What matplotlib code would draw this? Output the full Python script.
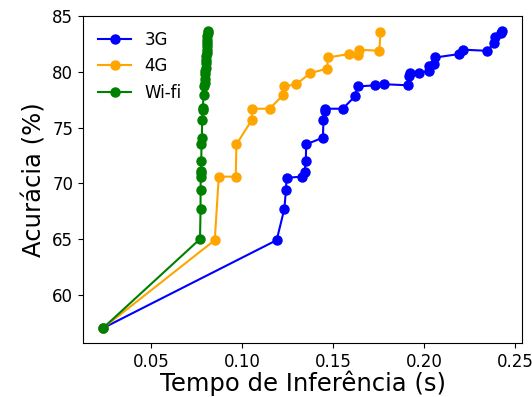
import matplotlib
matplotlib.use("Agg")
import matplotlib.pyplot as plt

# inference time (s) vs accuracy (%) per network type
t_3g = [0.0237, 0.1191, 0.1233, 0.1242, 0.1245, 0.1330, 0.1344, 0.1351, 0.1353,
        0.1445, 0.1448, 0.1459, 0.1459, 0.1554, 0.1620, 0.1637, 0.1730, 0.1781,
        0.1914, 0.1919, 0.1925, 0.1971, 0.2026, 0.2029, 0.2057, 0.2062, 0.2190,
        0.2216, 0.2346, 0.2386, 0.2391, 0.2422, 0.2431]
acc_3g = [57.0, 64.9, 67.7, 69.4, 70.5, 70.6, 71.0, 72.0, 73.5,
          74.1, 75.7, 76.5, 76.7, 76.7, 77.8, 78.7, 78.8, 78.9,
          78.8, 79.6, 79.9, 79.9, 80.1, 80.5, 80.7, 81.3, 81.6,
          82.0, 81.9, 82.6, 83.1, 83.5, 83.7]

t_4g = [0.0237, 0.0851, 0.0873, 0.0966, 0.0970, 0.1055, 0.1055, 0.1152, 0.1225,
        0.1231, 0.1299, 0.1376, 0.1469, 0.1472, 0.1586, 0.1637, 0.1642, 0.1755,
        0.1761]
acc_4g = [57.0, 64.9, 70.6, 70.6, 73.5, 75.7, 76.7, 76.7, 77.9,
          78.7, 78.9, 79.9, 80.3, 81.3, 81.6, 81.5, 82.0, 81.9,
          83.6]

t_wifi = [0.0237, 0.0770, 0.0773, 0.0773, 0.0774, 0.0776, 0.0776, 0.0777, 0.0778,
          0.0780, 0.0782, 0.0785, 0.0785, 0.0790, 0.0792, 0.0795, 0.0797, 0.0798,
          0.0800, 0.0801, 0.0802, 0.0804, 0.0805, 0.0806, 0.0807, 0.0808, 0.0809,
          0.0810, 0.0811, 0.0812, 0.0813]
acc_wifi = [57.0, 65.0, 67.7, 69.4, 70.6, 70.9, 71.1, 72.0, 73.5,
            74.1, 75.7, 76.6, 76.8, 77.9, 78.7, 79.0, 79.4, 79.8,
            80.1, 80.4, 80.8, 81.1, 81.4, 81.7, 82.0, 82.3, 82.6,
            82.9, 83.2, 83.5, 83.7]

fig, ax = plt.subplots(figsize=(5.32, 3.97), dpi=100)
fig.subplots_adjust(left=0.156, right=0.982, top=0.960, bottom=0.136)

ax.plot(t_3g, acc_3g, "-o", color="blue", lw=1.5, ms=6.5, label="3G")
ax.plot(t_4g, acc_4g, "-o", color="orange", lw=1.5, ms=6.5, label="4G")
ax.plot(t_wifi, acc_wifi, "-o", color="green", lw=1.5, ms=6.5, label="Wi-fi")

ax.set_xlabel("Tempo de Inferência (s)", fontsize=17.5, labelpad=0)
ax.set_ylabel("Acurácia (%)", fontsize=17.5)
ax.tick_params(labelsize=12)
ax.set_yticks([60, 65, 70, 75, 80, 85])
ax.legend(fontsize=12, loc="upper left", frameon=False)

fig.savefig("out.png", dpi=100)
